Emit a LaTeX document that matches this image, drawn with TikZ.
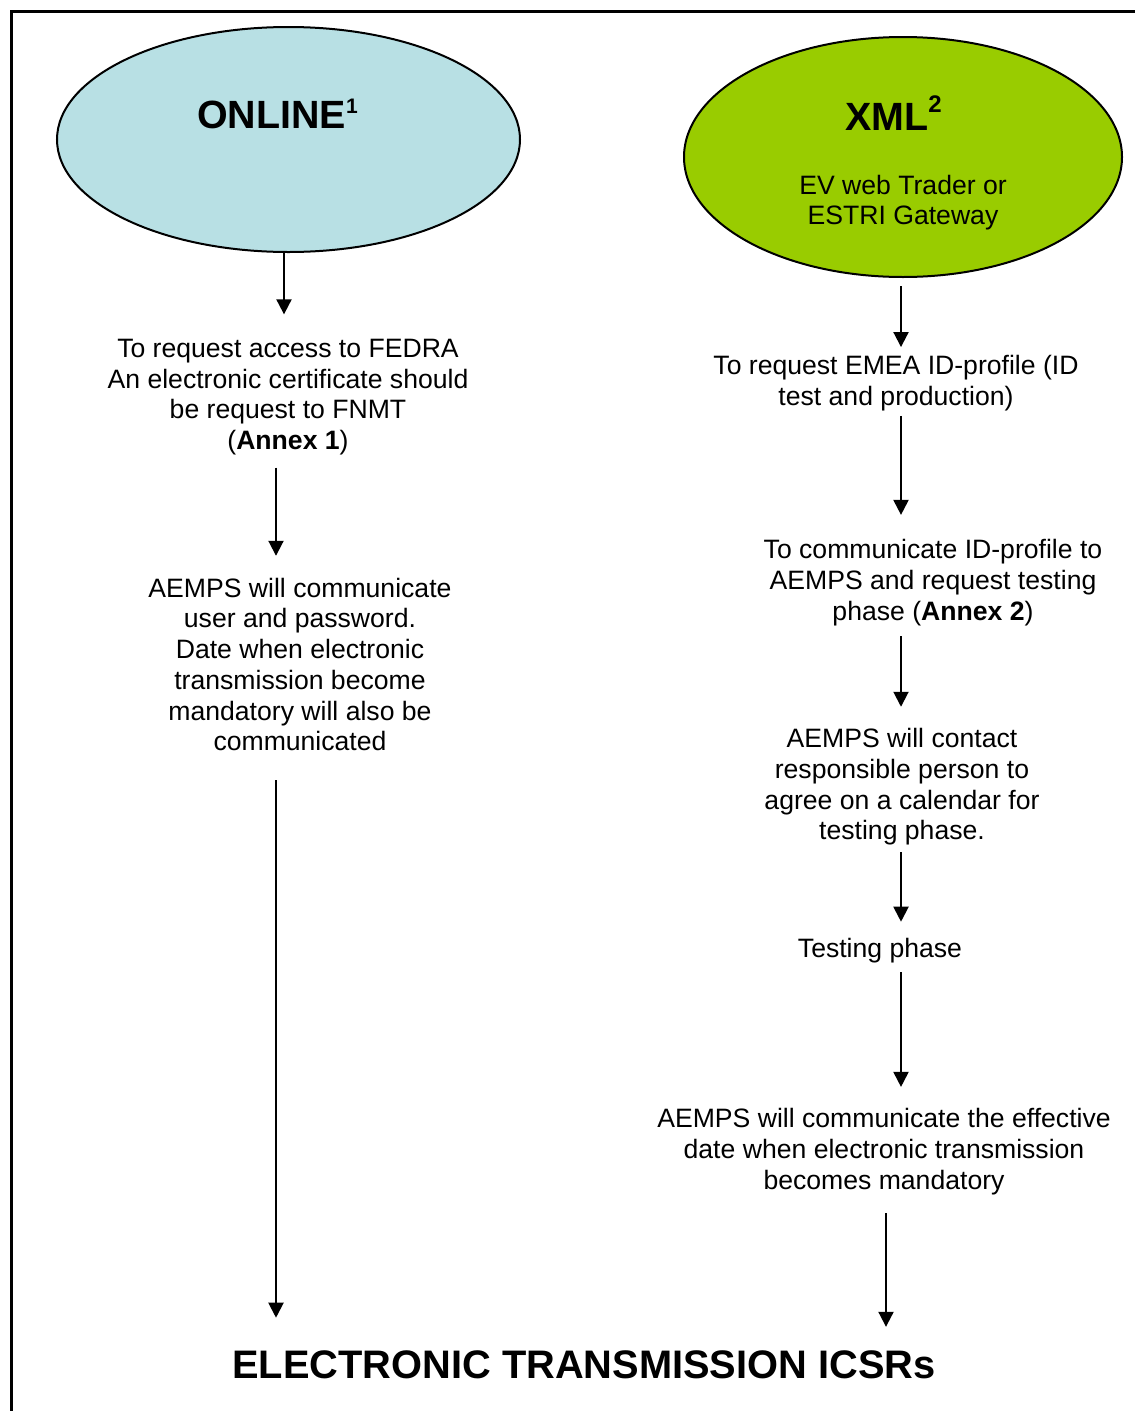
\documentclass[tikz,border=0pt]{standalone}
\usepackage{fontspec}
\setmainfont{Liberation Sans}
\usetikzlibrary{shapes.geometric,arrows.meta,calc}
\definecolor{onlinefill}{RGB}{184,224,228}
\definecolor{xmlfill}{RGB}{153,204,0}
\begin{document}
\begin{tikzpicture}[x=1pt,y=-1pt,
  txt/.style={align=center,inner sep=0pt,font=\fontsize{26.6}{30.7}\selectfont},
  head/.style={inner sep=0pt,font=\fontsize{39.4}{45}\selectfont\bfseries},
  arr/.style={line width=2pt,-{Triangle[width=15pt,length=15pt]}},
  oval/.style={ellipse,draw,line width=2pt,inner sep=0pt}]
\useasboundingbox (0,0) rectangle (1135,1411);
\draw[line width=3pt] (11,1412) -- (11,11) -- (1136,11);
% ellipses
\node[oval,fill=onlinefill,minimum width=463pt,minimum height=225pt] (eonline) at (288.5,139.5) {};
\node[oval,fill=xmlfill,minimum width=438pt,minimum height=240pt] (exml) at (903,157) {};
\node[head,anchor=base west] (online) at (197,128.5) {ONLINE\raisebox{15pt}{\fontsize{21}{21}\selectfont 1}};
\node[head,anchor=base west] (xml) at (845,130) {XML\raisebox{17.8pt}{\fontsize{24}{24}\selectfont 2}};
\node[txt] (ev) at (903,202.5) {EV web Trader or\\ESTRI Gateway};
% left column
\node[txt] (l1) at (288,397) {To request access to FEDRA\\An electronic certificate should\\be request to FNMT\\(\textbf{Annex 1})};
\node[txt] (l2) at (300,664.5) {AEMPS will communicate\\user and password.\\Date when electronic\\transmission become\\mandatory will also be\\communicated};
% right column
\node[txt] (r1) at (896,383) {To request EMEA ID-profile (ID\\test and production)};
\node[txt] (r2) at (933,582.5) {To communicate ID-profile to\\AEMPS and request testing\\phase (\textbf{Annex 2})};
\node[txt] (r3) at (902,787) {AEMPS will contact\\responsible person to\\agree on a calendar for\\testing phase.};
\node[txt] (r4) at (880,951) {Testing phase};
\node[txt] (r5) at (884,1151.5) {AEMPS will communicate the effective\\date when electronic transmission\\becomes mandatory};
% title
\node[head,font=\fontsize{39.8}{45}\selectfont\bfseries] (title) at (584,1365) {ELECTRONIC TRANSMISSION ICSRs};
% arrows left
\draw[arr] ($(eonline.south)+(-4.5,0)$) -- ($(l1.north)+(-4,-24.5)$);
\draw[arr] ($(l1.south)+(-12,12.4)$) -- ($(l2.north)+(-24,-22)$);
\draw[arr] ($(l2.south)+(-24,29)$) -- ($(title.north)+(-308,-33)$);
% arrows right
\draw[arr] ($(exml.south)+(-2,8)$) -- ($(r1.north)+(5,-8)$);
\draw[arr] ($(r1.south)+(5,5)$) -- ($(r2.north)+(-32,-24.3)$);
\draw[arr] ($(r2.south)+(-32,10.3)$) -- ($(r3.north)+(-1,-21.6)$);
\draw[arr] ($(r3.south)+(-1,6.6)$) -- ($(r4.north)+(21,-16.7)$);
\draw[arr] ($(r4.south)+(21,8.7)$) -- ($(r5.north)+(17,-21.3)$);
\draw[arr] ($(r5.south)+(2,18.3)$) -- ($(title.north)+(302,-23.9)$);
\end{tikzpicture}
\end{document}
